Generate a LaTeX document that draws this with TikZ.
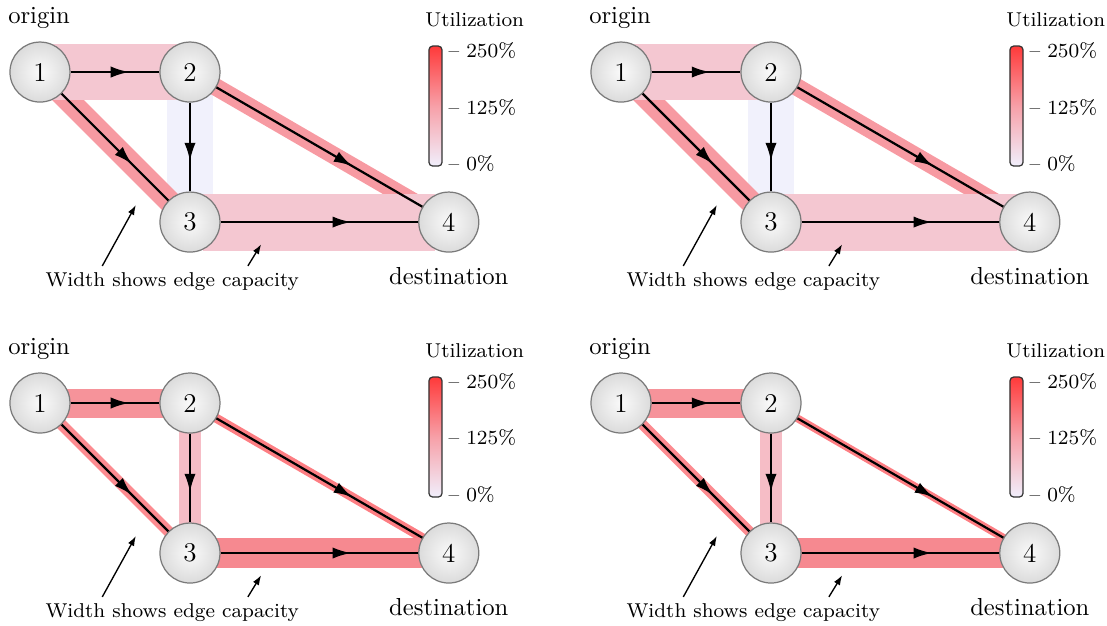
\documentclass[tikz,border=0pt]{standalone}
\usepackage{tikz}
\usetikzlibrary{arrows.meta, decorations.markings, backgrounds}
\definecolor{nodeEdge}{HTML}{7A7A7A}
\definecolor{utilLow}{HTML}{F1EFFC}
\definecolor{utilMid}{HTML}{F7A0A8}
\definecolor{utilHigh}{HTML}{FF3A3A}
\definecolor{bLav}{HTML}{F1F1FC}
\definecolor{bPale}{HTML}{F4C7D1}
\definecolor{bRose}{HTML}{F79AA2}
\definecolor{bSoft}{HTML}{F6BDC6}
\definecolor{bWarm}{HTML}{F6939A}
\definecolor{bHot}{HTML}{F68990}
\definecolor{bRed}{HTML}{FC8B90}
\definecolor{bDeep}{HTML}{FD7E83}

% one network panel: #1 name prefix, #2 shift, #3 bands (from/to/width/colour)
\newcommand{\flowpanel}[3]{%
  \begin{scope}[shift={#2}, name prefix=#1-]
    \node[vertex] (1) at (0,0) {1};
    \node[vertex] (2) at (2.143,0) {2};
    \node[vertex] (3) at (2.143,-2.143) {3};
    \node[vertex] (4) at (5.84,-2.143) {4};
    \begin{scope}[on background layer]
      \foreach \p/\q/\bw/\col in {#3}
        \draw[band, line width=\bw, draw=\col] (\p.center) -- (\q.center);
    \end{scope}
    \foreach \p/\q in {1/2, 1/3, 2/3, 2/4, 3/4}
      \draw[flow] (\p) -- (\q);
    \node[lbl, anchor=base west] (orig) at (-0.46,0.70) {origin};
    \node[lbl, anchor=base] (dest) at (5.84,-3.03) {destination};
    \node[note, anchor=base] (cap) at (1.89,-3.06) {Width shows edge capacity};
    \coordinate (t1) at (0.89,-2.77); \coordinate (h1) at (1.37,-1.90);
    \coordinate (t2) at (2.97,-2.77); \coordinate (h2) at (3.16,-2.46);
    \draw[pointer] (t1) -- (h1);
    \draw[pointer] (t2) -- (h2);
    \node[cbar] (bar) at (5.65,-0.486) {};
    \node[note, anchor=base] (util) at (6.21,0.657) {Utilization};
    \foreach \p/\y in {250/0.304, 125/-0.5, 0/-1.314}
      \node[note, anchor=west] (tick\p) at (5.83,\y) {-- \p\%};
  \end{scope}}

\begin{document}
\begin{tikzpicture}[
    vertex/.style={circle, draw=nodeEdge, line width=0.5pt, inner color=gray!4,
      outer color=gray!28, minimum size=0.857cm, inner sep=0pt,
      font=\fontsize{11}{13}\selectfont},
    band/.style={line cap=butt, shorten >=0.19cm, shorten <=0.19cm},
    flow/.style={line width=0.9pt, postaction={decorate},
      decoration={markings, mark=at position 0.66 with {\arrow{Latex[length=7.5pt,width=4.6pt]}}}},
    pointer/.style={line width=0.55pt, -{Latex[length=4pt,width=2.8pt]}},
    lbl/.style={font=\fontsize{10}{12}\selectfont, inner sep=0pt},
    note/.style={font=\fontsize{8.15}{10}\selectfont, inner sep=0pt},
    cbar/.style={rectangle, draw=black!80, line width=0.5pt, rounded corners=1.5pt,
      minimum width=0.186cm, minimum height=1.714cm, inner sep=0pt,
      top color=utilHigh, bottom color=utilLow, middle color=utilMid}]
  \useasboundingbox (0,0) rectangle (15.814,-8.929);

  \flowpanel{a}{(0.571,-1.029)}{2/3/0.657cm/bLav, 1/3/0.32cm/bRose, 2/4/0.25cm/bRose, 1/2/0.8cm/bPale, 3/4/0.814cm/bPale}
  \flowpanel{b}{(8.871,-1.029)}{2/3/0.657cm/bLav, 1/3/0.32cm/bRose, 2/4/0.25cm/bRose, 1/2/0.8cm/bPale, 3/4/0.814cm/bPale}
  \flowpanel{c}{(0.571,-5.757)}{2/3/0.31cm/bSoft, 1/3/0.16cm/bRed, 2/4/0.13cm/bDeep, 1/2/0.414cm/bWarm, 3/4/0.43cm/bHot}
  \flowpanel{d}{(8.871,-5.757)}{2/3/0.31cm/bSoft, 1/3/0.15cm/bRed, 2/4/0.11cm/bDeep, 1/2/0.414cm/bWarm, 3/4/0.43cm/bHot}
\end{tikzpicture}
\end{document}
